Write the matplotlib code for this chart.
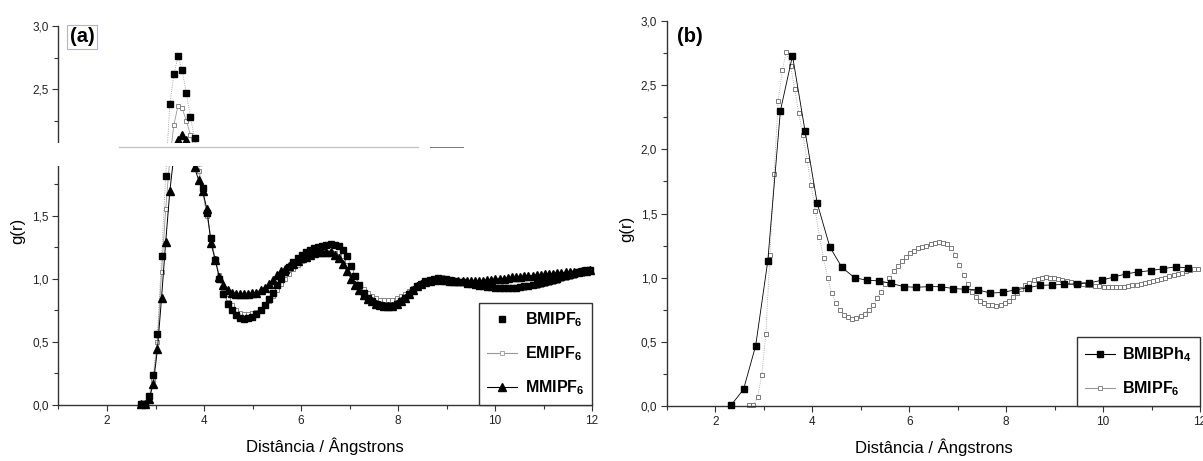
import matplotlib
matplotlib.use("Agg")
import matplotlib.pyplot as plt
import numpy as np
from matplotlib.lines import Line2D
from matplotlib.patches import Rectangle
from matplotlib.ticker import FuncFormatter, MultipleLocator

plt.rcParams['font.family'] = ['Liberation Sans', 'DejaVu Sans']
plt.rcParams['mathtext.fontset'] = 'custom'
plt.rcParams['mathtext.rm'] = 'Liberation Sans'
plt.rcParams['mathtext.bf'] = 'Liberation Sans:bold'

# radial grid of the PF6 simulations (Angstrom)
r_pf6 = np.round(np.arange(2.70, 12.0, 0.085), 3)

g_bmipf6 = [
    0.005, 0.01, 0.07, 0.24, 0.56, 1.18, 1.81, 2.38, 2.62, 2.76,
    2.65, 2.47, 2.28, 2.11, 1.92, 1.72, 1.52, 1.32, 1.15, 1.00,
    0.88, 0.80, 0.75, 0.71, 0.69, 0.68, 0.685, 0.70, 0.72, 0.75,
    0.79, 0.84, 0.89, 0.95, 1.00, 1.05, 1.09, 1.13, 1.16, 1.19,
    1.21, 1.23, 1.24, 1.25, 1.26, 1.27, 1.275, 1.27, 1.26, 1.23,
    1.18, 1.10, 1.02, 0.95, 0.89, 0.85, 0.82, 0.80, 0.79, 0.785,
    0.78, 0.785, 0.80, 0.82, 0.85, 0.88, 0.91, 0.94, 0.96, 0.98,
    0.99, 1.00, 1.005, 1.00, 0.995, 0.99, 0.985, 0.975, 0.97, 0.96,
    0.955, 0.95, 0.945, 0.94, 0.935, 0.935, 0.93, 0.93, 0.93, 0.93,
    0.93, 0.93, 0.935, 0.94, 0.945, 0.95, 0.96, 0.965, 0.975, 0.985,
    0.99, 1.00, 1.01, 1.02, 1.03, 1.04, 1.05, 1.06, 1.065, 1.07,
]

g_emipf6 = [
    0.0, 0.005, 0.05, 0.20, 0.50, 1.05, 1.55, 1.95, 2.22, 2.37,
    2.35, 2.25, 2.14, 2.00, 1.85, 1.68, 1.50, 1.32, 1.16, 1.03,
    0.93, 0.85, 0.79, 0.75, 0.73, 0.72, 0.72, 0.725, 0.735, 0.75,
    0.78, 0.82, 0.86, 0.91, 0.96, 1.00, 1.04, 1.08, 1.11, 1.14,
    1.16, 1.18, 1.19, 1.20, 1.205, 1.21, 1.21, 1.20, 1.18, 1.15,
    1.11, 1.06, 1.01, 0.96, 0.92, 0.89, 0.86, 0.845, 0.835, 0.83,
    0.83, 0.835, 0.845, 0.86, 0.88, 0.90, 0.925, 0.945, 0.965, 0.98,
    0.995, 1.005, 1.01, 1.01, 1.005, 1.00, 0.99, 0.98, 0.975, 0.965,
    0.96, 0.955, 0.95, 0.945, 0.94, 0.94, 0.935, 0.935, 0.93, 0.93,
    0.93, 0.93, 0.93, 0.93, 0.935, 0.94, 0.945, 0.95, 0.96, 0.965,
    0.975, 0.985, 0.995, 1.005, 1.015, 1.025, 1.035, 1.04, 1.045, 1.05,
]

g_mmipf6 = [
    0.005, 0.01, 0.05, 0.17, 0.44, 0.85, 1.29, 1.69, 1.98, 2.10,
    2.14, 2.10, 2.00, 1.88, 1.78, 1.69, 1.55, 1.28, 1.15, 1.01,
    0.95, 0.91, 0.89, 0.88, 0.875, 0.875, 0.88, 0.885, 0.89, 0.91,
    0.93, 0.96, 0.99, 1.03, 1.06, 1.08, 1.10, 1.12, 1.14, 1.16,
    1.17, 1.19, 1.20, 1.21, 1.21, 1.215, 1.21, 1.19, 1.16, 1.12,
    1.06, 1.00, 0.95, 0.91, 0.87, 0.84, 0.82, 0.80, 0.79, 0.785,
    0.78, 0.785, 0.80, 0.82, 0.85, 0.88, 0.91, 0.94, 0.96, 0.975,
    0.985, 0.99, 0.995, 0.99, 0.99, 0.985, 0.985, 0.98, 0.98, 0.98,
    0.98, 0.98, 0.985, 0.985, 0.99, 0.99, 0.995, 1.00, 1.00, 1.005,
    1.01, 1.01, 1.015, 1.02, 1.02, 1.025, 1.03, 1.03, 1.035, 1.04,
    1.04, 1.045, 1.045, 1.05, 1.05, 1.055, 1.055, 1.06, 1.06, 1.065,
]

r_bph4 = [2.33, 2.58, 2.83, 3.08, 3.34, 3.59, 3.85, 4.10, 4.36, 4.61,
          4.87, 5.12, 5.38, 5.63, 5.89, 6.14, 6.40, 6.65, 6.91, 7.16,
          7.42, 7.67, 7.93, 8.18, 8.44, 8.69, 8.95, 9.20, 9.46, 9.71,
          9.97, 10.22, 10.48, 10.73, 10.99, 11.24, 11.50, 11.75]
g_bmibph4 = [0.01, 0.13, 0.47, 1.13, 2.30, 2.73, 2.14, 1.58, 1.24, 1.08,
             1.00, 0.98, 0.975, 0.955, 0.93, 0.925, 0.93, 0.93, 0.915, 0.91,
             0.905, 0.88, 0.885, 0.905, 0.92, 0.94, 0.943, 0.948, 0.953, 0.958,
             0.98, 1.005, 1.03, 1.045, 1.055, 1.07, 1.085, 1.075]

W, H = 1203, 461
fig = plt.figure(figsize=(W / 100, H / 100), dpi=100)
ax_a = fig.add_axes([58.5 / W, 56 / H, 533.5 / W, 379 / H])
ax_b = fig.add_axes([667 / W, 55 / H, 533 / W, 385 / H])

comma = FuncFormatter(lambda v, p: f'{v:.1f}'.replace('.', ','))

for ax in (ax_a, ax_b):
    ax.set_xlim(1, 12)
    ax.set_ylim(0, 3.0)
    ax.xaxis.set_major_locator(MultipleLocator(2))
    ax.xaxis.set_minor_locator(MultipleLocator(1))
    ax.yaxis.set_major_locator(MultipleLocator(0.5))
    ax.yaxis.set_minor_locator(MultipleLocator(0.25))
    ax.yaxis.set_major_formatter(comma)
    ax.spines[['top', 'right']].set_visible(False)
    for s in ('left', 'bottom'):
        ax.spines[s].set_color('#333333')
        ax.spines[s].set_linewidth(1.0)
    ax.tick_params(which='major', direction='out', length=4.5, width=0.8,
                   color='#333333', labelsize=8.5, labelcolor='#222222', pad=2.5)
    ax.tick_params(which='minor', direction='out', length=2.8, width=0.8,
                   color='#333333')
    ax.set_xlabel('Distância / Ângstrons', fontsize=12, labelpad=8)
    ax.set_ylabel('g(r)', fontsize=12)
    ax.yaxis.set_label_coords(-0.062, 0.46)

leg_style = dict(loc='lower right', bbox_to_anchor=(1.0, 0.0), borderaxespad=0,
                 fancybox=False, edgecolor='#333333', framealpha=1,
                 prop={'weight': 'bold', 'size': 11.5}, handlelength=1.9,
                 handletextpad=0.45, labelspacing=0.95, borderpad=0.5)

# (a) PF6 salts with different cations
ax_a.plot(r_pf6, g_emipf6, color='#999999', lw=0.6, marker='s', ms=3.5,
          mfc='white', mec='#777777', mew=0.6, clip_on=False, zorder=2)
ax_a.plot(r_pf6, g_bmipf6, color='#8c8c8c', lw=0.6, ls=':', marker='s', ms=5,
          mfc='black', mec='black', clip_on=False, zorder=3)
ax_a.plot(r_pf6, g_mmipf6, color='black', lw=0.7, marker='^', ms=5.5,
          mfc='black', mec='black', clip_on=False, zorder=4)

leg_a = [
    Line2D([], [], ls='none', marker='s', ms=5, color='black'),
    Line2D([], [], color='#999999', lw=0.8, marker='s', ms=3.5,
           mfc='white', mec='#999999', mew=0.6),
    Line2D([], [], color='black', lw=0.8, marker='^', ms=5.5),
]
ax_a.legend(leg_a, [r'BMIPF$_\mathbf{6}$', r'EMIPF$_\mathbf{6}$', r'MMIPF$_\mathbf{6}$'],
            **leg_style)
ax_a.get_legend().get_frame().set_linewidth(1.0)

# (b) BMI cation with BPh4 and PF6 anions
ax_b.plot(r_pf6, g_bmipf6, color='#9a9a9a', lw=0.6, ls=':', marker='s', ms=3.5,
          mfc='white', mec='#666666', mew=0.6, clip_on=False, zorder=2)
ax_b.plot(r_bph4, g_bmibph4, color='black', lw=0.6, marker='s', ms=5,
          mfc='black', mec='black', clip_on=False, zorder=3)

leg_b = [
    Line2D([], [], color='black', lw=0.8, marker='s', ms=5),
    Line2D([], [], color='#999999', lw=0.8, marker='s', ms=3.5,
           mfc='white', mec='#777777', mew=0.6),
]
ax_b.legend(leg_b, [r'BMIBPh$_\mathbf{4}$', r'BMIPF$_\mathbf{6}$'], **leg_style)
ax_b.get_legend().get_frame().set_linewidth(1.0)

# blank strip across panel (a) between the peak and the lower curves
fig.add_artist(Rectangle((0, (H - 166) / H), 600 / W, 23 / H,
                         transform=fig.transFigure, facecolor='white',
                         edgecolor='none', zorder=10))
fig.add_artist(Line2D([119 / W, 418 / W], [(H - 147.5) / H] * 2,
                      transform=fig.transFigure, color='#c0c0c0', lw=0.9, zorder=11))
fig.add_artist(Line2D([430 / W, 463 / W], [(H - 147.5) / H] * 2,
                      transform=fig.transFigure, color='#777777', lw=0.7, zorder=11))

fig.text(82 / W, (H - 37) / H, '(a)', fontsize=14.5, fontweight='bold',
         ha='center', va='center',
         bbox=dict(boxstyle='square,pad=0.12', facecolor='white',
                   edgecolor='#aab0f0', lw=0.8))
fig.text(690 / W, (H - 36) / H, '(b)', fontsize=14.5, fontweight='bold',
         ha='center', va='center')

fig.savefig('out.png', dpi=100)
